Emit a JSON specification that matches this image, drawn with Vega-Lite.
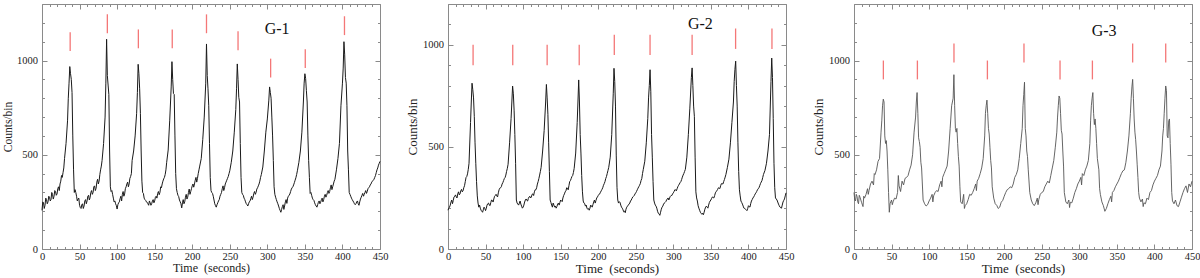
{
"$schema":"https://vega.github.io/schema/vega-lite/v6.json",
"background":"white",
"padding":{"left":2,"top":3,"right":5,"bottom":0},
"bounds":"flush",
"spacing":68,
"config":{"font":"Liberation Serif","view":{"stroke":"#8a8a8a","strokeWidth":1},
 "axis":{"domain":false,"grid":false,"tickColor":"#8a8a8a","tickWidth":1,"labelColor":"#222","labelFont":"Liberation Serif","titleFont":"Liberation Serif","titleFontWeight":"normal","titleColor":"#222","labelOverlap":false,"labelFlush":false,"labelBound":false}},
"datasets":{
"g1":[{"t":0,"c":205},{"t":2,"c":245},{"t":4,"c":232},{"t":6,"c":262},{"t":8,"c":250},{"t":10,"c":275},{"t":12,"c":262},{"t":14,"c":290},{"t":16,"c":280},{"t":18,"c":305},{"t":20,"c":292},{"t":22,"c":330},{"t":24,"c":345},{"t":26,"c":390},{"t":28,"c":405},{"t":30,"c":480},{"t":32,"c":560},{"t":34,"c":680},{"t":35,"c":800},{"t":36,"c":880},{"t":37,"c":968},{"t":38,"c":930},{"t":39,"c":900},{"t":40,"c":830},{"t":41,"c":600},{"t":42,"c":420},{"t":43,"c":300},{"t":44,"c":315},{"t":46,"c":280},{"t":48,"c":265},{"t":50,"c":232},{"t":52,"c":215},{"t":54,"c":240},{"t":56,"c":228},{"t":58,"c":262},{"t":60,"c":255},{"t":62,"c":285},{"t":64,"c":272},{"t":66,"c":310},{"t":68,"c":300},{"t":70,"c":335},{"t":72,"c":322},{"t":74,"c":370},{"t":76,"c":360},{"t":78,"c":420},{"t":80,"c":470},{"t":82,"c":560},{"t":84,"c":700},{"t":85,"c":880},{"t":86,"c":1113},{"t":87,"c":920},{"t":88,"c":870},{"t":89,"c":820},{"t":90,"c":520},{"t":91,"c":330},{"t":92,"c":305},{"t":94,"c":290},{"t":96,"c":250},{"t":98,"c":240},{"t":100,"c":212},{"t":102,"c":245},{"t":104,"c":268},{"t":106,"c":255},{"t":108,"c":305},{"t":110,"c":292},{"t":112,"c":330},{"t":114,"c":355},{"t":116,"c":345},{"t":118,"c":385},{"t":120,"c":470},{"t":122,"c":520},{"t":124,"c":600},{"t":126,"c":720},{"t":127,"c":830},{"t":128,"c":980},{"t":129,"c":930},{"t":130,"c":850},{"t":131,"c":720},{"t":132,"c":520},{"t":133,"c":360},{"t":134,"c":300},{"t":136,"c":270},{"t":138,"c":258},{"t":140,"c":248},{"t":142,"c":232},{"t":144,"c":245},{"t":146,"c":240},{"t":148,"c":262},{"t":150,"c":255},{"t":152,"c":280},{"t":154,"c":295},{"t":156,"c":288},{"t":158,"c":330},{"t":160,"c":345},{"t":162,"c":372},{"t":164,"c":395},{"t":166,"c":460},{"t":168,"c":525},{"t":170,"c":680},{"t":172,"c":860},{"t":173,"c":994},{"t":174,"c":900},{"t":175,"c":825},{"t":176,"c":820},{"t":177,"c":600},{"t":178,"c":400},{"t":179,"c":320},{"t":180,"c":300},{"t":182,"c":278},{"t":184,"c":250},{"t":186,"c":218},{"t":188,"c":262},{"t":190,"c":250},{"t":192,"c":290},{"t":194,"c":275},{"t":196,"c":318},{"t":198,"c":305},{"t":200,"c":335},{"t":202,"c":328},{"t":204,"c":365},{"t":206,"c":355},{"t":208,"c":400},{"t":210,"c":440},{"t":212,"c":480},{"t":214,"c":580},{"t":216,"c":700},{"t":218,"c":880},{"t":219,"c":1088},{"t":220,"c":920},{"t":221,"c":850},{"t":222,"c":760},{"t":223,"c":560},{"t":224,"c":380},{"t":225,"c":310},{"t":226,"c":300},{"t":228,"c":280},{"t":230,"c":240},{"t":232,"c":222},{"t":234,"c":245},{"t":236,"c":262},{"t":238,"c":290},{"t":240,"c":320},{"t":242,"c":310},{"t":244,"c":345},{"t":246,"c":365},{"t":248,"c":385},{"t":250,"c":415},{"t":252,"c":460},{"t":254,"c":520},{"t":256,"c":620},{"t":258,"c":740},{"t":259,"c":850},{"t":260,"c":982},{"t":261,"c":900},{"t":262,"c":805},{"t":263,"c":780},{"t":264,"c":560},{"t":265,"c":380},{"t":266,"c":300},{"t":268,"c":285},{"t":270,"c":262},{"t":272,"c":240},{"t":274,"c":228},{"t":276,"c":250},{"t":278,"c":268},{"t":280,"c":262},{"t":282,"c":295},{"t":284,"c":290},{"t":286,"c":318},{"t":288,"c":335},{"t":290,"c":360},{"t":292,"c":395},{"t":294,"c":435},{"t":296,"c":520},{"t":298,"c":620},{"t":300,"c":690},{"t":302,"c":790},{"t":303,"c":860},{"t":304,"c":830},{"t":305,"c":800},{"t":306,"c":700},{"t":307,"c":600},{"t":308,"c":470},{"t":309,"c":330},{"t":310,"c":290},{"t":312,"c":262},{"t":314,"c":240},{"t":316,"c":215},{"t":318,"c":195},{"t":320,"c":225},{"t":322,"c":210},{"t":324,"c":250},{"t":326,"c":242},{"t":328,"c":280},{"t":330,"c":292},{"t":332,"c":318},{"t":334,"c":330},{"t":336,"c":352},{"t":338,"c":378},{"t":340,"c":415},{"t":342,"c":460},{"t":344,"c":520},{"t":346,"c":620},{"t":348,"c":780},{"t":349,"c":880},{"t":350,"c":930},{"t":351,"c":905},{"t":352,"c":840},{"t":353,"c":780},{"t":354,"c":600},{"t":355,"c":470},{"t":356,"c":380},{"t":357,"c":295},{"t":358,"c":300},{"t":360,"c":270},{"t":362,"c":258},{"t":364,"c":235},{"t":366,"c":222},{"t":368,"c":248},{"t":370,"c":240},{"t":372,"c":262},{"t":374,"c":250},{"t":376,"c":280},{"t":378,"c":275},{"t":380,"c":300},{"t":382,"c":295},{"t":384,"c":325},{"t":386,"c":315},{"t":388,"c":345},{"t":390,"c":370},{"t":392,"c":420},{"t":394,"c":480},{"t":396,"c":560},{"t":398,"c":760},{"t":400,"c":880},{"t":401,"c":960},{"t":402,"c":1100},{"t":403,"c":1030},{"t":404,"c":910},{"t":405,"c":880},{"t":406,"c":760},{"t":407,"c":520},{"t":408,"c":420},{"t":409,"c":300},{"t":410,"c":290},{"t":412,"c":270},{"t":414,"c":255},{"t":416,"c":240},{"t":418,"c":240},{"t":420,"c":255},{"t":422,"c":232},{"t":424,"c":265},{"t":426,"c":285},{"t":428,"c":280},{"t":430,"c":300},{"t":432,"c":295},{"t":434,"c":320},{"t":436,"c":330},{"t":438,"c":345},{"t":440,"c":360},{"t":442,"c":370},{"t":444,"c":390},{"t":446,"c":420},{"t":448,"c":445},{"t":450,"c":465},
{"t":1,"c":250},{"t":3,"c":215},{"t":5,"c":270},{"t":7,"c":240},{"t":9,"c":280},{"t":11,"c":255},{"t":13,"c":300},{"t":15,"c":265},{"t":17,"c":310},{"t":19,"c":285},{"t":21,"c":320},{"t":23,"c":310},{"t":25,"c":360},{"t":27,"c":380},{"t":29,"c":430},
{"t":45,"c":300},{"t":47,"c":255},{"t":49,"c":270},{"t":51,"c":220},{"t":53,"c":235},{"t":55,"c":215},{"t":57,"c":255},{"t":59,"c":240},{"t":61,"c":280},{"t":63,"c":260},{"t":65,"c":300},{"t":67,"c":290},{"t":69,"c":330},{"t":71,"c":310},{"t":73,"c":355},{"t":75,"c":345},{"t":77,"c":395},{"t":79,"c":440},
{"t":93,"c":310},{"t":95,"c":270},{"t":97,"c":255},{"t":99,"c":230},{"t":101,"c":235},{"t":103,"c":250},{"t":105,"c":280},{"t":107,"c":290},{"t":109,"c":280},{"t":111,"c":320},{"t":113,"c":345},{"t":115,"c":330},{"t":117,"c":375},{"t":119,"c":400},
{"t":135,"c":295},{"t":137,"c":262},{"t":139,"c":250},{"t":141,"c":240},{"t":143,"c":255},{"t":145,"c":232},{"t":147,"c":255},{"t":149,"c":245},{"t":151,"c":275},{"t":153,"c":270},{"t":155,"c":305},{"t":157,"c":300},{"t":159,"c":325},{"t":161,"c":360},{"t":163,"c":380},{"t":165,"c":420},
{"t":181,"c":285},{"t":183,"c":260},{"t":185,"c":240},{"t":187,"c":245},{"t":189,"c":240},{"t":191,"c":275},{"t":193,"c":265},{"t":195,"c":300},{"t":197,"c":290},{"t":199,"c":320},{"t":201,"c":345},{"t":203,"c":345},{"t":205,"c":380},{"t":207,"c":375},{"t":209,"c":420},
{"t":227,"c":295},{"t":229,"c":260},{"t":231,"c":230},{"t":233,"c":235},{"t":235,"c":255},{"t":237,"c":280},{"t":239,"c":300},{"t":241,"c":335},{"t":243,"c":325},{"t":245,"c":355},{"t":247,"c":375},{"t":249,"c":400},
{"t":267,"c":290},{"t":269,"c":270},{"t":271,"c":250},{"t":273,"c":235},{"t":275,"c":240},{"t":277,"c":255},{"t":279,"c":280},{"t":281,"c":275},{"t":283,"c":305},{"t":285,"c":300},{"t":287,"c":325},{"t":289,"c":345},{"t":291,"c":380},
{"t":311,"c":275},{"t":313,"c":250},{"t":315,"c":228},{"t":317,"c":205},{"t":319,"c":210},{"t":321,"c":235},{"t":323,"c":228},{"t":325,"c":262},{"t":327,"c":270},{"t":329,"c":285},{"t":331,"c":305},{"t":333,"c":325},{"t":335,"c":340},{"t":337,"c":365},{"t":339,"c":395},
{"t":359,"c":285},{"t":361,"c":262},{"t":363,"c":245},{"t":365,"c":228},{"t":367,"c":235},{"t":369,"c":255},{"t":371,"c":248},{"t":373,"c":270},{"t":375,"c":262},{"t":377,"c":290},{"t":379,"c":285},{"t":381,"c":310},{"t":383,"c":305},{"t":385,"c":340},{"t":387,"c":330},{"t":389,"c":360},
{"t":411,"c":280},{"t":413,"c":262},{"t":415,"c":248},{"t":417,"c":235},{"t":419,"c":250},{"t":421,"c":240},{"t":423,"c":250},{"t":425,"c":275},{"t":427,"c":295},{"t":429,"c":290},{"t":431,"c":310},{"t":433,"c":305},{"t":435,"c":325},{"t":437,"c":340},{"t":439,"c":355},{"t":441,"c":365},{"t":443,"c":380},{"t":445,"c":405},{"t":447,"c":430},{"t":449,"c":455}],
"g2":[{"t":0,"c":190},{"t":2,"c":205},{"t":4,"c":230},{"t":6,"c":222},{"t":8,"c":255},{"t":10,"c":265},{"t":12,"c":250},{"t":14,"c":280},{"t":16,"c":270},{"t":18,"c":292},{"t":20,"c":285},{"t":22,"c":310},{"t":24,"c":350},{"t":26,"c":368},{"t":28,"c":420},{"t":30,"c":620},{"t":31,"c":720},{"t":32,"c":812},{"t":33,"c":780},{"t":34,"c":740},{"t":35,"c":650},{"t":36,"c":520},{"t":37,"c":420},{"t":38,"c":330},{"t":40,"c":225},{"t":42,"c":215},{"t":44,"c":190},{"t":46,"c":180},{"t":48,"c":205},{"t":50,"c":188},{"t":52,"c":215},{"t":54,"c":225},{"t":56,"c":212},{"t":58,"c":240},{"t":60,"c":230},{"t":62,"c":258},{"t":64,"c":268},{"t":66,"c":255},{"t":68,"c":290},{"t":70,"c":300},{"t":72,"c":318},{"t":74,"c":335},{"t":76,"c":350},{"t":78,"c":380},{"t":80,"c":415},{"t":82,"c":520},{"t":84,"c":640},{"t":85,"c":720},{"t":86,"c":798},{"t":87,"c":760},{"t":88,"c":680},{"t":89,"c":560},{"t":90,"c":420},{"t":91,"c":240},{"t":92,"c":225},{"t":94,"c":215},{"t":96,"c":235},{"t":98,"c":210},{"t":100,"c":205},{"t":102,"c":230},{"t":104,"c":245},{"t":106,"c":235},{"t":108,"c":255},{"t":110,"c":250},{"t":112,"c":268},{"t":114,"c":262},{"t":116,"c":290},{"t":118,"c":300},{"t":120,"c":330},{"t":122,"c":362},{"t":124,"c":400},{"t":126,"c":480},{"t":128,"c":580},{"t":130,"c":720},{"t":131,"c":806},{"t":132,"c":740},{"t":133,"c":660},{"t":134,"c":520},{"t":135,"c":380},{"t":136,"c":240},{"t":138,"c":215},{"t":140,"c":225},{"t":142,"c":205},{"t":144,"c":200},{"t":146,"c":220},{"t":148,"c":215},{"t":150,"c":240},{"t":152,"c":232},{"t":154,"c":262},{"t":156,"c":280},{"t":158,"c":300},{"t":160,"c":290},{"t":162,"c":330},{"t":164,"c":345},{"t":166,"c":360},{"t":168,"c":395},{"t":170,"c":470},{"t":172,"c":620},{"t":173,"c":720},{"t":174,"c":828},{"t":175,"c":720},{"t":176,"c":560},{"t":177,"c":470},{"t":178,"c":360},{"t":180,"c":235},{"t":182,"c":222},{"t":184,"c":215},{"t":186,"c":195},{"t":188,"c":190},{"t":190,"c":215},{"t":192,"c":205},{"t":194,"c":230},{"t":196,"c":225},{"t":198,"c":250},{"t":200,"c":262},{"t":202,"c":270},{"t":204,"c":285},{"t":206,"c":300},{"t":208,"c":320},{"t":210,"c":345},{"t":212,"c":370},{"t":214,"c":400},{"t":216,"c":450},{"t":218,"c":560},{"t":220,"c":760},{"t":221,"c":885},{"t":222,"c":820},{"t":223,"c":700},{"t":224,"c":460},{"t":225,"c":300},{"t":226,"c":240},{"t":228,"c":232},{"t":230,"c":215},{"t":232,"c":200},{"t":234,"c":182},{"t":236,"c":178},{"t":238,"c":205},{"t":240,"c":215},{"t":242,"c":225},{"t":244,"c":240},{"t":246,"c":255},{"t":248,"c":262},{"t":250,"c":275},{"t":252,"c":290},{"t":254,"c":305},{"t":256,"c":320},{"t":258,"c":345},{"t":260,"c":390},{"t":262,"c":430},{"t":264,"c":520},{"t":266,"c":640},{"t":267,"c":740},{"t":268,"c":800},{"t":269,"c":878},{"t":270,"c":770},{"t":271,"c":560},{"t":272,"c":450},{"t":273,"c":330},{"t":274,"c":240},{"t":276,"c":215},{"t":278,"c":200},{"t":280,"c":175},{"t":282,"c":165},{"t":284,"c":195},{"t":286,"c":210},{"t":288,"c":225},{"t":290,"c":232},{"t":292,"c":245},{"t":294,"c":240},{"t":296,"c":258},{"t":298,"c":262},{"t":300,"c":275},{"t":302,"c":290},{"t":304,"c":285},{"t":306,"c":305},{"t":308,"c":318},{"t":310,"c":330},{"t":312,"c":352},{"t":314,"c":370},{"t":316,"c":390},{"t":318,"c":450},{"t":320,"c":560},{"t":322,"c":690},{"t":324,"c":840},{"t":325,"c":887},{"t":326,"c":800},{"t":327,"c":700},{"t":328,"c":650},{"t":329,"c":450},{"t":330,"c":280},{"t":332,"c":235},{"t":334,"c":200},{"t":336,"c":180},{"t":338,"c":170},{"t":340,"c":168},{"t":342,"c":195},{"t":344,"c":210},{"t":346,"c":200},{"t":348,"c":228},{"t":350,"c":240},{"t":352,"c":255},{"t":354,"c":250},{"t":356,"c":275},{"t":358,"c":285},{"t":360,"c":300},{"t":362,"c":296},{"t":364,"c":320},{"t":366,"c":318},{"t":368,"c":340},{"t":370,"c":365},{"t":372,"c":400},{"t":374,"c":440},{"t":376,"c":520},{"t":378,"c":620},{"t":380,"c":720},{"t":381,"c":820},{"t":382,"c":880},{"t":383,"c":920},{"t":384,"c":800},{"t":385,"c":700},{"t":386,"c":520},{"t":387,"c":380},{"t":388,"c":290},{"t":390,"c":235},{"t":392,"c":220},{"t":394,"c":200},{"t":396,"c":195},{"t":398,"c":188},{"t":400,"c":212},{"t":402,"c":205},{"t":404,"c":235},{"t":406,"c":250},{"t":408,"c":262},{"t":410,"c":275},{"t":412,"c":290},{"t":414,"c":300},{"t":416,"c":320},{"t":418,"c":335},{"t":420,"c":365},{"t":422,"c":385},{"t":424,"c":420},{"t":426,"c":480},{"t":428,"c":560},{"t":430,"c":820},{"t":431,"c":935},{"t":432,"c":840},{"t":433,"c":640},{"t":434,"c":420},{"t":435,"c":300},{"t":436,"c":250},{"t":438,"c":240},{"t":440,"c":220},{"t":442,"c":205},{"t":444,"c":200},{"t":446,"c":230},{"t":448,"c":245},{"t":450,"c":275},
{"t":1,"c":200},{"t":3,"c":215},{"t":5,"c":240},{"t":7,"c":238},{"t":9,"c":258},{"t":11,"c":255},{"t":13,"c":270},{"t":15,"c":265},{"t":17,"c":285},{"t":19,"c":280},{"t":21,"c":300},{"t":23,"c":330},{"t":25,"c":355},{"t":27,"c":390},
{"t":39,"c":260},{"t":41,"c":205},{"t":43,"c":200},{"t":45,"c":185},{"t":47,"c":192},{"t":49,"c":198},{"t":51,"c":200},{"t":53,"c":222},{"t":55,"c":215},{"t":57,"c":228},{"t":59,"c":238},{"t":61,"c":245},{"t":63,"c":262},{"t":65,"c":260},{"t":67,"c":275},{"t":69,"c":298},{"t":71,"c":305},{"t":73,"c":325},{"t":75,"c":345},{"t":77,"c":362},{"t":79,"c":395},
{"t":93,"c":220},{"t":95,"c":225},{"t":97,"c":220},{"t":99,"c":200},{"t":101,"c":215},{"t":103,"c":240},{"t":105,"c":238},{"t":107,"c":248},{"t":109,"c":258},{"t":111,"c":255},{"t":113,"c":270},{"t":115,"c":280},{"t":117,"c":290},{"t":119,"c":318},{"t":121,"c":345},{"t":123,"c":380},
{"t":137,"c":228},{"t":139,"c":205},{"t":141,"c":215},{"t":143,"c":210},{"t":145,"c":208},{"t":147,"c":225},{"t":149,"c":228},{"t":151,"c":236},{"t":153,"c":250},{"t":155,"c":270},{"t":157,"c":285},{"t":159,"c":298},{"t":161,"c":310},{"t":163,"c":335},{"t":165,"c":355},{"t":167,"c":375},
{"t":179,"c":280},{"t":181,"c":225},{"t":183,"c":210},{"t":185,"c":200},{"t":187,"c":198},{"t":189,"c":200},{"t":191,"c":210},{"t":193,"c":218},{"t":195,"c":240},{"t":197,"c":238},{"t":199,"c":255},{"t":201,"c":268},{"t":203,"c":278},{"t":205,"c":292},{"t":207,"c":312},{"t":209,"c":330},{"t":211,"c":355},{"t":213,"c":385},
{"t":227,"c":225},{"t":229,"c":228},{"t":231,"c":205},{"t":233,"c":192},{"t":235,"c":185},{"t":237,"c":195},{"t":239,"c":210},{"t":241,"c":220},{"t":243,"c":235},{"t":245,"c":248},{"t":247,"c":258},{"t":249,"c":270},{"t":251,"c":282},{"t":253,"c":298},{"t":255,"c":312},{"t":257,"c":335},{"t":259,"c":370},
{"t":275,"c":225},{"t":277,"c":210},{"t":279,"c":185},{"t":281,"c":172},{"t":283,"c":180},{"t":285,"c":205},{"t":287,"c":220},{"t":289,"c":228},{"t":291,"c":240},{"t":293,"c":250},{"t":295,"c":250},{"t":297,"c":262},{"t":299,"c":270},{"t":301,"c":282},{"t":303,"c":290},{"t":305,"c":295},{"t":307,"c":312},{"t":309,"c":325},{"t":311,"c":340},{"t":313,"c":362},{"t":315,"c":380},
{"t":331,"c":250},{"t":333,"c":212},{"t":335,"c":190},{"t":337,"c":175},{"t":339,"c":175},{"t":341,"c":180},{"t":343,"c":205},{"t":345,"c":205},{"t":347,"c":215},{"t":349,"c":235},{"t":351,"c":248},{"t":353,"c":252},{"t":355,"c":262},{"t":357,"c":282},{"t":359,"c":292},{"t":361,"c":298},{"t":363,"c":310},{"t":365,"c":320},{"t":367,"c":330},{"t":369,"c":352},
{"t":389,"c":260},{"t":391,"c":228},{"t":393,"c":210},{"t":395,"c":198},{"t":397,"c":192},{"t":399,"c":198},{"t":401,"c":208},{"t":403,"c":222},{"t":405,"c":242},{"t":407,"c":255},{"t":409,"c":270},{"t":411,"c":282},{"t":413,"c":295},{"t":415,"c":310},{"t":417,"c":328},{"t":419,"c":350},
{"t":437,"c":245},{"t":439,"c":230},{"t":441,"c":212},{"t":443,"c":202},{"t":445,"c":215},{"t":447,"c":238},{"t":449,"c":260}],
"g3":[{"t":0,"c":300},{"t":1,"c":260},{"t":2,"c":255},{"t":3,"c":290},{"t":4,"c":280},{"t":5,"c":250},{"t":6,"c":240},{"t":7,"c":285},{"t":8,"c":275},{"t":10,"c":248},{"t":12,"c":225},{"t":13,"c":280},{"t":14,"c":270},{"t":16,"c":290},{"t":18,"c":320},{"t":19,"c":290},{"t":20,"c":310},{"t":22,"c":345},{"t":24,"c":360},{"t":26,"c":340},{"t":27,"c":400},{"t":28,"c":395},{"t":30,"c":420},{"t":32,"c":465},{"t":34,"c":480},{"t":36,"c":620},{"t":37,"c":680},{"t":38,"c":760},{"t":39,"c":795},{"t":40,"c":780},{"t":41,"c":600},{"t":42,"c":560},{"t":43,"c":575},{"t":44,"c":520},{"t":45,"c":420},{"t":46,"c":300},{"t":47,"c":195},{"t":48,"c":240},{"t":50,"c":260},{"t":51,"c":235},{"t":52,"c":250},{"t":54,"c":270},{"t":56,"c":265},{"t":58,"c":300},{"t":59,"c":390},{"t":60,"c":335},{"t":62,"c":305},{"t":64,"c":360},{"t":66,"c":340},{"t":68,"c":375},{"t":70,"c":380},{"t":72,"c":390},{"t":74,"c":420},{"t":76,"c":445},{"t":78,"c":500},{"t":80,"c":620},{"t":82,"c":700},{"t":83,"c":780},{"t":84,"c":830},{"t":85,"c":720},{"t":86,"c":590},{"t":87,"c":570},{"t":88,"c":540},{"t":89,"c":460},{"t":90,"c":430},{"t":92,"c":260},{"t":94,"c":240},{"t":96,"c":228},{"t":98,"c":235},{"t":100,"c":255},{"t":102,"c":270},{"t":104,"c":290},{"t":105,"c":250},{"t":106,"c":282},{"t":108,"c":300},{"t":110,"c":310},{"t":112,"c":305},{"t":114,"c":340},{"t":116,"c":360},{"t":117,"c":330},{"t":118,"c":380},{"t":120,"c":400},{"t":122,"c":420},{"t":124,"c":440},{"t":126,"c":520},{"t":128,"c":640},{"t":130,"c":760},{"t":132,"c":800},{"t":133,"c":925},{"t":134,"c":760},{"t":135,"c":640},{"t":136,"c":620},{"t":137,"c":640},{"t":138,"c":560},{"t":139,"c":490},{"t":140,"c":440},{"t":141,"c":330},{"t":142,"c":250},{"t":144,"c":240},{"t":146,"c":290},{"t":147,"c":215},{"t":148,"c":230},{"t":150,"c":240},{"t":152,"c":262},{"t":154,"c":290},{"t":156,"c":285},{"t":158,"c":300},{"t":160,"c":320},{"t":162,"c":345},{"t":163,"c":310},{"t":164,"c":360},{"t":166,"c":375},{"t":168,"c":400},{"t":170,"c":430},{"t":172,"c":480},{"t":174,"c":600},{"t":175,"c":720},{"t":176,"c":760},{"t":177,"c":790},{"t":178,"c":720},{"t":179,"c":640},{"t":180,"c":610},{"t":181,"c":540},{"t":182,"c":470},{"t":183,"c":430},{"t":184,"c":330},{"t":186,"c":270},{"t":188,"c":240},{"t":190,"c":232},{"t":192,"c":215},{"t":194,"c":222},{"t":196,"c":248},{"t":198,"c":258},{"t":200,"c":280},{"t":202,"c":300},{"t":204,"c":315},{"t":206,"c":320},{"t":208,"c":330},{"t":210,"c":325},{"t":212,"c":345},{"t":214,"c":380},{"t":216,"c":395},{"t":218,"c":420},{"t":220,"c":480},{"t":222,"c":560},{"t":224,"c":640},{"t":225,"c":760},{"t":226,"c":820},{"t":227,"c":885},{"t":228,"c":640},{"t":229,"c":600},{"t":230,"c":520},{"t":231,"c":490},{"t":232,"c":420},{"t":234,"c":300},{"t":236,"c":260},{"t":238,"c":240},{"t":240,"c":230},{"t":242,"c":245},{"t":244,"c":270},{"t":245,"c":235},{"t":246,"c":262},{"t":248,"c":290},{"t":250,"c":300},{"t":252,"c":305},{"t":254,"c":330},{"t":256,"c":345},{"t":258,"c":360},{"t":260,"c":350},{"t":262,"c":390},{"t":264,"c":430},{"t":266,"c":470},{"t":268,"c":540},{"t":270,"c":620},{"t":271,"c":700},{"t":272,"c":760},{"t":273,"c":812},{"t":274,"c":800},{"t":275,"c":720},{"t":276,"c":630},{"t":277,"c":610},{"t":278,"c":520},{"t":279,"c":440},{"t":280,"c":300},{"t":282,"c":250},{"t":284,"c":240},{"t":286,"c":260},{"t":287,"c":220},{"t":288,"c":248},{"t":290,"c":245},{"t":292,"c":270},{"t":294,"c":300},{"t":296,"c":320},{"t":298,"c":345},{"t":300,"c":360},{"t":302,"c":380},{"t":303,"c":340},{"t":304,"c":400},{"t":306,"c":390},{"t":308,"c":420},{"t":310,"c":440},{"t":312,"c":470},{"t":314,"c":560},{"t":315,"c":680},{"t":316,"c":760},{"t":317,"c":800},{"t":318,"c":830},{"t":319,"c":720},{"t":320,"c":660},{"t":321,"c":690},{"t":322,"c":640},{"t":323,"c":560},{"t":324,"c":480},{"t":326,"c":420},{"t":327,"c":320},{"t":328,"c":290},{"t":330,"c":250},{"t":332,"c":230},{"t":334,"c":200},{"t":336,"c":215},{"t":338,"c":240},{"t":340,"c":262},{"t":342,"c":280},{"t":343,"c":250},{"t":344,"c":300},{"t":346,"c":310},{"t":348,"c":330},{"t":350,"c":345},{"t":352,"c":360},{"t":354,"c":380},{"t":356,"c":400},{"t":358,"c":415},{"t":360,"c":420},{"t":362,"c":460},{"t":364,"c":520},{"t":366,"c":600},{"t":368,"c":720},{"t":369,"c":800},{"t":370,"c":860},{"t":371,"c":900},{"t":372,"c":800},{"t":373,"c":690},{"t":374,"c":620},{"t":375,"c":580},{"t":376,"c":520},{"t":377,"c":450},{"t":378,"c":380},{"t":379,"c":300},{"t":380,"c":270},{"t":382,"c":250},{"t":384,"c":265},{"t":385,"c":225},{"t":386,"c":245},{"t":388,"c":240},{"t":390,"c":270},{"t":392,"c":262},{"t":394,"c":300},{"t":396,"c":310},{"t":398,"c":340},{"t":400,"c":360},{"t":402,"c":375},{"t":404,"c":390},{"t":406,"c":420},{"t":408,"c":440},{"t":410,"c":520},{"t":411,"c":600},{"t":412,"c":640},{"t":413,"c":720},{"t":414,"c":800},{"t":415,"c":865},{"t":416,"c":840},{"t":417,"c":600},{"t":418,"c":590},{"t":419,"c":680},{"t":420,"c":690},{"t":421,"c":560},{"t":422,"c":450},{"t":423,"c":300},{"t":424,"c":255},{"t":426,"c":240},{"t":428,"c":260},{"t":430,"c":230},{"t":432,"c":225},{"t":434,"c":250},{"t":436,"c":275},{"t":438,"c":300},{"t":440,"c":320},{"t":442,"c":335},{"t":444,"c":300},{"t":446,"c":345},{"t":448,"c":330},{"t":450,"c":360}],
"m1":[{"t":37.5,"y1":1050,"y2":1150},{"t":87,"y1":1145,"y2":1245},{"t":128.3,"y1":1065,"y2":1165},{"t":173.4,"y1":1065,"y2":1165},{"t":219,"y1":1145,"y2":1245},{"t":261,"y1":1055,"y2":1155},{"t":304.4,"y1":910,"y2":1010},{"t":350.5,"y1":960,"y2":1060},{"t":402.7,"y1":1135,"y2":1235}],
"m2":[{"t":33.4,"y1":900,"y2":1000},{"t":86.2,"y1":900,"y2":1000},{"t":132,"y1":900,"y2":1000},{"t":174.7,"y1":900,"y2":1000},{"t":221.4,"y1":950,"y2":1050},{"t":269,"y1":950,"y2":1050},{"t":325,"y1":950,"y2":1050},{"t":382.9,"y1":980,"y2":1080},{"t":431.3,"y1":980,"y2":1080}],
"m3":[{"t":39.1,"y1":900,"y2":1000},{"t":84.4,"y1":900,"y2":1000},{"t":133.1,"y1":990,"y2":1090},{"t":177.6,"y1":900,"y2":1000},{"t":226.3,"y1":990,"y2":1090},{"t":274.3,"y1":900,"y2":1000},{"t":317.4,"y1":900,"y2":1000},{"t":371,"y1":990,"y2":1090},{"t":415,"y1":990,"y2":1090}]
},
"hconcat":[
{"width":338,"height":245,
 "layer":[
  {"data":{"name":"g1"},"mark":{"type":"line","color":"#1a1a1a","strokeWidth":1},
   "encoding":{
    "x":{"field":"t","type":"quantitative","scale":{"domain":[0,450],"nice":false},
     "axis":{"orient":"bottom","values":[0,10,20,30,40,50,60,70,80,90,100,110,120,130,140,150,160,170,180,190,200,210,220,230,240,250,260,270,280,290,300,310,320,330,340,350,360,370,380,390,400,410,420,430,440,450],"tickSize":{"condition":{"test":"datum.value % 50 === 0","value":-5},"value":-2.5},"labelFontSize":{"condition":{"test":"datum.value % 50 === 0","value":10.5},"value":0},"labelExpr":"datum.value % 50 === 0 ? datum.label : ''","labelPadding":7.5,"title":"Time \u00a0(seconds)","titleFontSize":12,"titlePadding":0}},
    "y":{"field":"c","type":"quantitative","scale":{"domain":[0,1300],"nice":false},
     "axis":{"orient":"left","format":"d","values":[0,100,200,300,400,500,600,700,800,900,1000,1100,1200,1300],"tickSize":{"condition":{"test":"datum.value % 500 === 0","value":-5},"value":-2.5},"labelFontSize":{"condition":{"test":"datum.value % 500 === 0","value":10.5},"value":0},"labelExpr":"datum.value % 500 === 0 ? datum.label : ''","labelPadding":9.5,"title":"Counts/bin","titleFontSize":11.5,"titlePadding":3}}}},
  {"data":{"name":"m1"},"mark":{"type":"rule","color":"#f47777","strokeWidth":1.3},
   "encoding":{
    "x":{"field":"t","type":"quantitative","axis":{"orient":"top","values":[0,10,20,30,40,50,60,70,80,90,100,110,120,130,140,150,160,170,180,190,200,210,220,230,240,250,260,270,280,290,300,310,320,330,340,350,360,370,380,390,400,410,420,430,440,450],"tickSize":{"condition":{"test":"datum.value % 50 === 0","value":-5},"value":-2.5},"labels":false,"title":null}},
    "y":{"field":"y1","type":"quantitative","axis":{"orient":"right","values":[0,100,200,300,400,500,600,700,800,900,1000,1100,1200,1300],"tickSize":{"condition":{"test":"datum.value % 500 === 0","value":-5},"value":-2.5},"labels":false,"title":null}},
    "y2":{"field":"y2"}}},
  {"data":{"values":[{"t":313,"c":1166,"label":"G-1"}]},"mark":{"type":"text","fontSize":16,"font":"Liberation Serif","color":"#111"},
   "encoding":{"x":{"field":"t","type":"quantitative","axis":null},"y":{"field":"c","type":"quantitative","axis":null},"text":{"field":"label"}}}
 ],
 "resolve":{"axis":{"x":"independent","y":"independent"}}
},
{"width":338,"height":245,
 "layer":[
  {"data":{"name":"g2"},"mark":{"type":"line","color":"#1a1a1a","strokeWidth":1},
   "encoding":{
    "x":{"field":"t","type":"quantitative","scale":{"domain":[0,450],"nice":false},
     "axis":{"orient":"bottom","values":[0,10,20,30,40,50,60,70,80,90,100,110,120,130,140,150,160,170,180,190,200,210,220,230,240,250,260,270,280,290,300,310,320,330,340,350,360,370,380,390,400,410,420,430,440,450],"tickSize":{"condition":{"test":"datum.value % 50 === 0","value":-5},"value":-2.5},"labelFontSize":{"condition":{"test":"datum.value % 50 === 0","value":10.5},"value":0},"labelExpr":"datum.value % 50 === 0 ? datum.label : ''","labelPadding":7.5,"title":"Time \u00a0(seconds)","titleFontSize":13,"titlePadding":0}},
    "y":{"field":"c","type":"quantitative","scale":{"domain":[0,1200],"nice":false},
     "axis":{"orient":"left","format":"d","values":[0,100,200,300,400,500,600,700,800,900,1000,1100,1200],"tickSize":{"condition":{"test":"datum.value % 500 === 0","value":-5},"value":-2.5},"labelFontSize":{"condition":{"test":"datum.value % 500 === 0","value":10.5},"value":0},"labelExpr":"datum.value % 500 === 0 ? datum.label : ''","labelPadding":9.5,"title":"Counts/bin","titleFontSize":13,"titlePadding":3}}}},
  {"data":{"name":"m2"},"mark":{"type":"rule","color":"#f47777","strokeWidth":1.3},
   "encoding":{
    "x":{"field":"t","type":"quantitative","axis":{"orient":"top","values":[0,10,20,30,40,50,60,70,80,90,100,110,120,130,140,150,160,170,180,190,200,210,220,230,240,250,260,270,280,290,300,310,320,330,340,350,360,370,380,390,400,410,420,430,440,450],"tickSize":{"condition":{"test":"datum.value % 50 === 0","value":-5},"value":-2.5},"labels":false,"title":null}},
    "y":{"field":"y1","type":"quantitative","axis":{"orient":"right","values":[0,100,200,300,400,500,600,700,800,900,1000,1100,1200],"tickSize":{"condition":{"test":"datum.value % 500 === 0","value":-5},"value":-2.5},"labels":false,"title":null}},
    "y2":{"field":"y2"}}},
  {"data":{"values":[{"t":336,"c":1102,"label":"G-2"}]},"mark":{"type":"text","fontSize":16,"font":"Liberation Serif","color":"#111"},
   "encoding":{"x":{"field":"t","type":"quantitative","axis":null},"y":{"field":"c","type":"quantitative","axis":null},"text":{"field":"label"}}}
 ],
 "resolve":{"axis":{"x":"independent","y":"independent"}}
},
{"width":338,"height":245,
 "layer":[
  {"data":{"name":"g3"},"mark":{"type":"line","color":"#555","strokeWidth":0.9},
   "encoding":{
    "x":{"field":"t","type":"quantitative","scale":{"domain":[0,450],"nice":false},
     "axis":{"orient":"bottom","values":[0,10,20,30,40,50,60,70,80,90,100,110,120,130,140,150,160,170,180,190,200,210,220,230,240,250,260,270,280,290,300,310,320,330,340,350,360,370,380,390,400,410,420,430,440,450],"tickSize":{"condition":{"test":"datum.value % 50 === 0","value":-5},"value":-2.5},"labelFontSize":{"condition":{"test":"datum.value % 50 === 0","value":10.5},"value":0},"labelExpr":"datum.value % 50 === 0 ? datum.label : ''","labelPadding":7.5,"title":"Time \u00a0(seconds)","titleFontSize":13,"titlePadding":0}},
    "y":{"field":"c","type":"quantitative","scale":{"domain":[0,1300],"nice":false},
     "axis":{"orient":"left","format":"d","values":[0,100,200,300,400,500,600,700,800,900,1000,1100,1200,1300],"tickSize":{"condition":{"test":"datum.value % 500 === 0","value":-5},"value":-2.5},"labelFontSize":{"condition":{"test":"datum.value % 500 === 0","value":10.5},"value":0},"labelExpr":"datum.value % 500 === 0 ? datum.label : ''","labelPadding":9.5,"title":"Counts/bin","titleFontSize":13,"titlePadding":3}}}},
  {"data":{"name":"m3"},"mark":{"type":"rule","color":"#f47777","strokeWidth":1.3},
   "encoding":{
    "x":{"field":"t","type":"quantitative","axis":{"orient":"top","values":[0,10,20,30,40,50,60,70,80,90,100,110,120,130,140,150,160,170,180,190,200,210,220,230,240,250,260,270,280,290,300,310,320,330,340,350,360,370,380,390,400,410,420,430,440,450],"tickSize":{"condition":{"test":"datum.value % 50 === 0","value":-5},"value":-2.5},"labels":false,"title":null}},
    "y":{"field":"y1","type":"quantitative","axis":{"orient":"right","values":[0,100,200,300,400,500,600,700,800,900,1000,1100,1200,1300],"tickSize":{"condition":{"test":"datum.value % 500 === 0","value":-5},"value":-2.5},"labels":false,"title":null}},
    "y2":{"field":"y2"}}},
  {"data":{"values":[{"t":333,"c":1157,"label":"G-3"}]},"mark":{"type":"text","fontSize":16,"font":"Liberation Serif","color":"#111"},
   "encoding":{"x":{"field":"t","type":"quantitative","axis":null},"y":{"field":"c","type":"quantitative","axis":null},"text":{"field":"label"}}}
 ],
 "resolve":{"axis":{"x":"independent","y":"independent"}}
}
]
}
